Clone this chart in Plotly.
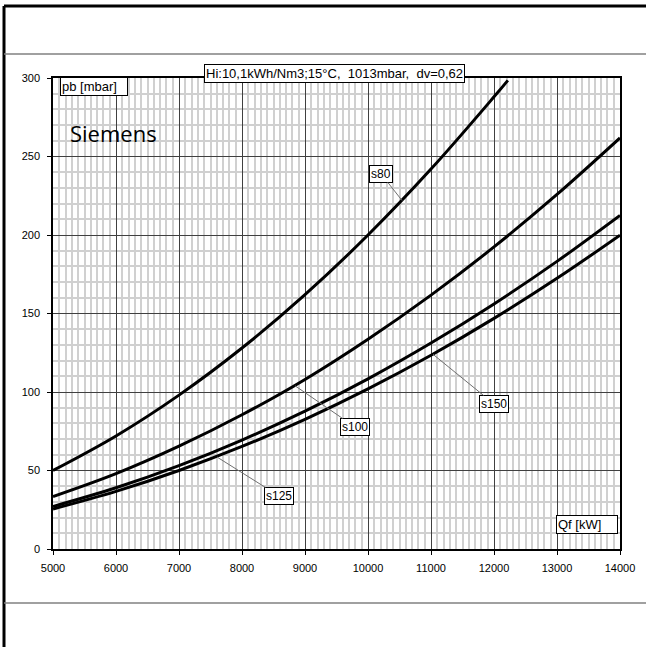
import plotly.graph_objects as go

# Qf [kW] vs pb [mbar]
qf = [5000, 6000, 7000, 8000, 9000, 10000, 11000, 12000, 13000, 14000]
s80_qf = [5000, 6000, 7000, 8000, 9000, 10000, 11000, 12000, 12220]
s80 = [50, 72, 98, 128, 162, 200, 242, 288, 298.5]
s100 = [33.4, 48, 65.5, 85.5, 108, 133.6, 161.7, 192.4, 225.8, 261.8]
s125 = [27.1, 39, 53.1, 69.4, 87.8, 108.4, 131.2, 156.1, 183.2, 212.5]
s150 = [25.5, 36.7, 50, 65.3, 82.6, 102, 123.4, 146.9, 172.4, 199.9]

# curve labels: name, point on curve, label position
labels = [
    ("s80", 10540, 222, 10206, 239),
    ("s100", 8841, 104, 9794, 77.7),
    ("s125", 7603, 58.6, 8587, 33.8),
    ("s150", 11032, 124, 12000, 92.4),
]

FONT = "Liberation Sans, Arial, sans-serif"

fig = go.Figure()
for xs, ys, name in [(s80_qf, s80, "s80"), (qf, s100, "s100"),
                     (qf, s125, "s125"), (qf, s150, "s150")]:
    fig.add_trace(go.Scatter(x=xs, y=ys, mode="lines", name=name,
                             line=dict(color="black", width=3, shape="spline"),
                             showlegend=False, hoverinfo="skip"))

fig.update_layout(
    width=646, height=647,
    margin=dict(l=53, r=26, t=78, b=98),
    paper_bgcolor="white", plot_bgcolor="white",
    font=dict(family=FONT, size=11, color="black"),
)
fig.update_xaxes(
    range=[5000, 14000], dtick=1000, tick0=5000, tickformat="d",
    showgrid=True, gridcolor="#404040", gridwidth=1,
    minor=dict(dtick=100, showgrid=True, gridcolor="#d0d0d0", gridwidth=2),
    ticks="outside", ticklen=4, tickcolor="black", ticklabelstandoff=4,
    showline=True, linecolor="black", linewidth=1.5, mirror=True,
    zeroline=False, tickfont=dict(size=11),
)
fig.update_yaxes(
    range=[0, 300], dtick=50,
    showgrid=True, gridcolor="#404040", gridwidth=1,
    minor=dict(dtick=10, showgrid=True, gridcolor="#d0d0d0", gridwidth=2),
    ticks="outside", ticklen=4, tickcolor="black", ticklabelstandoff=5,
    showline=True, linecolor="black", linewidth=1.5, mirror=True,
    zeroline=False, tickfont=dict(size=11),
)

# outer frame of the sheet (pixel positions converted to paper units)
frame = [
    dict(x0=-0.0864, x1=1.1, y0=1.1529, y1=1.1529, color="black", width=3),
    dict(x0=-0.0864, x1=-0.0864, y0=1.1529, y1=-0.25, color="black", width=3),
    dict(x0=-0.0864, x1=1.1, y0=1.051, y1=1.051, color="#808080", width=1.5),
    dict(x0=-0.0864, x1=1.1, y0=-0.1146, y1=-0.1146, color="#808080", width=1.5),
]
for f in frame:
    fig.add_shape(type="line", xref="paper", yref="paper",
                  x0=f["x0"], x1=f["x1"], y0=f["y0"], y1=f["y1"],
                  line=dict(color=f["color"], width=f["width"]))

box = dict(bordercolor="black", borderwidth=1, bgcolor="white", borderpad=1)
fig.add_annotation(xref="paper", yref="paper", x=0.497, y=1.0297,
                   text="Hi:10,1kWh/Nm3;15°C,\u00a0\u00a01013mbar,\u00a0\u00a0dv=0,62",
                   showarrow=False, font=dict(size=13), **box)
fig.add_annotation(xref="paper", yref="paper", x=0.0123, y=1.002,
                   xanchor="left", yanchor="top", width=64, align="left",
                   text="pb\u00a0[mbar]", showarrow=False, font=dict(size=13), **box)
fig.add_annotation(xref="paper", yref="paper", x=0.0265, y=0.883,
                   xanchor="left", yanchor="middle", text="Siemens",
                   showarrow=False, font=dict(size=22, family="Open Sans"))
fig.add_annotation(xref="paper", yref="paper", x=0.996, y=0.051,
                   xanchor="right", yanchor="middle", width=58, align="left",
                   text="Qf\u00a0[kW]", showarrow=False, font=dict(size=13), **box)

for name, px, py, lx, ly in labels:
    fig.add_annotation(x=px, y=py, ax=lx, ay=ly, axref="x", ayref="y",
                       text=name, showarrow=True, arrowhead=0, arrowwidth=1,
                       arrowcolor="#707070", font=dict(size=12), **box)

# page body margin would shift the chart by 8px
fig.write_html("out.html", config={"displayModeBar": False},
               post_script="document.body.style.margin='0';")
